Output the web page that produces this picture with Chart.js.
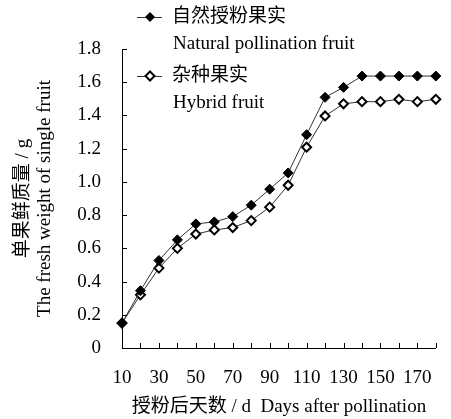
<!DOCTYPE html>
<html>
<head>
<meta charset="utf-8">
<script src="https://cdn.jsdelivr.net/npm/chart.js@4/dist/chart.umd.min.js"></script>
<style>
  html, body { margin: 0; padding: 0; background: #fff; }
  #wrap { width: 451px; height: 419px; }
</style>
</head>
<body>
<div id="wrap"><canvas id="chart"></canvas></div>
<script>
// values
const days = [10, 20, 30, 40, 50, 60, 70, 80, 90, 100, 110, 120, 130, 140, 150, 160, 170, 180];
const naturalFruit = [0.15, 0.345, 0.527, 0.651, 0.747, 0.759, 0.791, 0.86, 0.956, 1.054, 1.284, 1.509, 1.569, 1.637, 1.637, 1.637, 1.637, 1.637];
const hybridFruit = [0.15, 0.32, 0.481, 0.60, 0.686, 0.711, 0.725, 0.767, 0.848, 0.98, 1.209, 1.397, 1.47, 1.483, 1.483, 1.497, 1.483, 1.497];
const xTickLabels = [10, 30, 50, 70, 90, 110, 130, 150, 170];
const yTickLabels = [0, 0.2, 0.4, 0.6, 0.8, 1.0, 1.2, 1.4, 1.6, 1.8];
const seriesNames = ['自然授粉果实', '杂种果实'];
const seriesNamesEn = ['Natural pollination fruit', 'Hybrid fruit'];

const FONT = '"Liberation Serif", "Noto Sans CJK SC", serif';

function diamond(ctx, x, y, r, filled) {
  ctx.beginPath();
  ctx.moveTo(x, y - r);
  ctx.lineTo(x + r, y);
  ctx.lineTo(x, y + r);
  ctx.lineTo(x - r, y);
  ctx.closePath();
  if (filled) {
    ctx.fillStyle = '#000';
    ctx.fill();
  } else {
    ctx.fillStyle = '#fff';
    ctx.fill();
    ctx.lineWidth = 2;
    ctx.strokeStyle = '#000';
    ctx.stroke();
  }
}

// inward tick marks on both axes
const innerTicks = {
  id: 'innerTicks',
  afterDraw(chart) {
    const { ctx, scales: { x, y } } = chart;
    ctx.save();
    ctx.strokeStyle = '#000';
    ctx.lineWidth = 1;
    ctx.beginPath();
    days.forEach(d => {
      const px = Math.round(x.getPixelForValue(d)) + 0.5;
      ctx.moveTo(px, y.bottom);
      ctx.lineTo(px, y.bottom - 5);
    });
    yTickLabels.forEach(v => {
      const py = Math.round(y.getPixelForValue(v)) + 0.5;
      ctx.moveTo(x.left, py);
      ctx.lineTo(x.left + 5, py);
    });
    ctx.stroke();
    ctx.restore();
  }
};

// legend drawn as in the figure, two lines per series
const figLegend = {
  id: 'figLegend',
  afterDraw(chart) {
    const ctx = chart.ctx;
    const rows = [17, 76];
    ctx.save();
    ctx.font = '19px ' + FONT;
    ctx.textBaseline = 'middle';
    ctx.fillStyle = '#000';
    seriesNames.forEach((name, i) => {
      const y = rows[i];
      ctx.strokeStyle = '#333';
      ctx.lineWidth = 1;
      ctx.beginPath();
      ctx.moveTo(137, y + 0.5);
      ctx.lineTo(162, y + 0.5);
      ctx.stroke();
      diamond(ctx, 150, y, i === 0 ? 5 : 4.5, i === 0);
      ctx.fillStyle = '#000';
      ctx.fillText(name, 172, y);
      ctx.fillText(seriesNamesEn[i], 173, y + 27);
    });
    ctx.restore();
  }
};

new Chart(document.getElementById('chart'), {
  type: 'line',
  data: {
    datasets: [
      {
        label: seriesNames[0],
        data: days.map((d, i) => ({ x: d, y: naturalFruit[i] })),
        borderColor: '#333',
        borderWidth: 1,
        pointStyle: 'rectRot',
        pointRadius: 5,
        pointBackgroundColor: '#000',
        pointBorderColor: '#000',
        pointBorderWidth: 1,
        clip: false
      },
      {
        label: seriesNames[1],
        data: days.map((d, i) => ({ x: d, y: hybridFruit[i] })),
        borderColor: '#333',
        borderWidth: 1,
        pointStyle: 'rectRot',
        pointRadius: 4.5,
        pointBackgroundColor: '#fff',
        pointBorderColor: '#000',
        pointBorderWidth: 2,
        clip: false
      }
    ]
  },
  options: {
    responsive: true,
    maintainAspectRatio: false,
    animation: false,
    layout: { padding: { top: 49, right: 4, left: 0, bottom: 0 } },
    plugins: { legend: { display: false }, tooltip: { enabled: false } },
    scales: {
      x: {
        type: 'linear',
        min: 10,
        max: 180,
        afterBuildTicks: s => { s.ticks = xTickLabels.map(v => ({ value: v })); },
        afterFit: s => { s.height = 71; },
        grid: { display: false, drawTicks: false },
        border: { display: true, color: '#000', width: 1 },
        ticks: { color: '#000', padding: 19, maxRotation: 0, autoSkip: false, font: { family: FONT, size: 19 } },
        title: {
          display: true,
          text: '授粉后天数 / d  Days after pollination',
          color: '#000',
          font: { family: FONT, size: 19 },
          padding: { top: 0, bottom: 1 }
        }
      },
      y: {
        min: 0,
        max: 1.8,
        afterBuildTicks: s => { s.ticks = yTickLabels.map(v => ({ value: v })); },
        afterFit: s => { s.width = 122; },
        grid: { display: false, drawTicks: false },
        border: { display: true, color: '#000', width: 1 },
        ticks: {
          color: '#000',
          padding: 21,
          font: { family: FONT, size: 19 },
          callback: v => (v === 0 ? '0' : Number(v).toFixed(1))
        },
        title: {
          display: true,
          text: ['单果鲜质量 / g', 'The fresh weight of single fruit'],
          color: '#000',
          font: { family: FONT, size: 19, lineHeight: 1.16 },
          padding: { top: 12, bottom: 0 }
        }
      }
    }
  },
  plugins: [innerTicks, figLegend]
});
</script>
</body>
</html>
